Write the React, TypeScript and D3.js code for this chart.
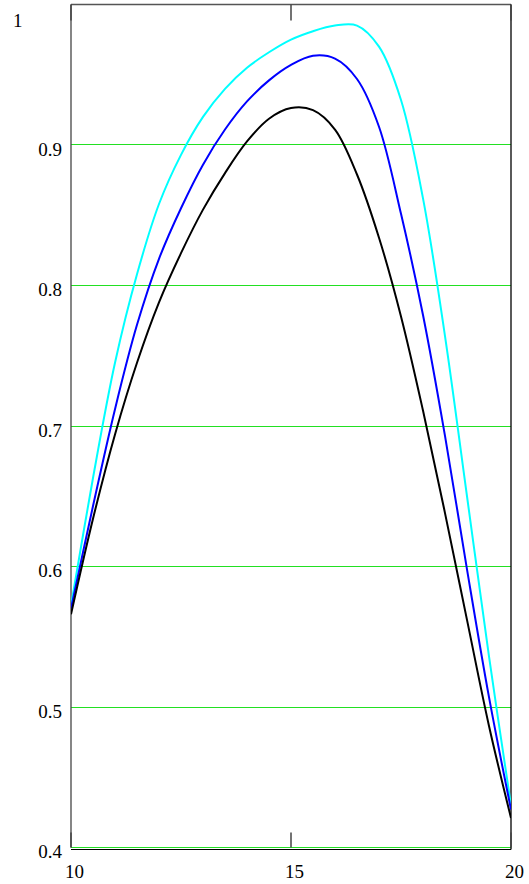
import React from "react";
import * as d3 from "d3";

const xValues = [10, 10.5, 11, 11.5, 12, 12.5, 13, 13.5, 14, 14.5, 15, 15.5, 16, 16.5, 17, 17.5, 18, 18.5, 19, 19.5, 20];
const cyanSeries = [0.572, 0.663, 0.745, 0.808, 0.858, 0.893, 0.92, 0.94, 0.955, 0.966, 0.975, 0.981, 0.985, 0.985, 0.97, 0.932, 0.862, 0.764, 0.65, 0.536, 0.43];
const blueSeries = [0.57, 0.643, 0.712, 0.772, 0.819, 0.855, 0.886, 0.911, 0.931, 0.946, 0.957, 0.9635, 0.9615, 0.947, 0.913, 0.851, 0.779, 0.693, 0.598, 0.507, 0.427];
const blackSeries = [0.566, 0.634, 0.694, 0.745, 0.788, 0.823, 0.854, 0.88, 0.9025, 0.9187, 0.9263, 0.9248, 0.911, 0.879, 0.834, 0.778, 0.711, 0.638, 0.562, 0.4865, 0.421];

const xTicks = [10, 15, 20];
const xTickLabels = ["10", "15", "20"];
const yGrid = [0.4, 0.5, 0.6, 0.7, 0.8, 0.9];
const yTickValues = [0.4, 0.5, 0.6, 0.7, 0.8, 0.9, 1];
const yTickLabels = ["0.4", "0.5", "0.6", "0.7", "0.8", "0.9", "1"];

const W = 529;
const H = 884;
const left = 71;
const right = 511;
const top = 4.5;
const bottom = 847.5;

export default function App() {
  const x = d3.scaleLinear().domain([10, 20]).range([left, right]);
  const y = d3.scaleLinear().domain([0.4, 1]).range([bottom, top]);
  const line = d3
    .line<number>()
    .x((_, i) => x(xValues[i]))
    .y((d) => y(d))
    .curve(d3.curveCatmullRom.alpha(0.5));

  const series = [
    { data: cyanSeries, color: "#00ffff" },
    { data: blueSeries, color: "#0000ff" },
    { data: blackSeries, color: "#000000" },
  ];

  const font = "'Liberation Serif', 'Times New Roman', serif";
  const snap = (v: number) => Math.floor(v) + 0.5;

  return (
    <svg
      width={W}
      height={H}
      style={{ position: "absolute", left: 0, top: 0, background: "#fff" }}
    >
      <defs>
        <clipPath id="plotclip">
          <rect x={left} y={top} width={right - left} height={bottom - top + 2} />
        </clipPath>
      </defs>
      {yGrid.map((v) => (
        <line key={"g" + v} x1={left} x2={right} y1={snap(y(v))} y2={snap(y(v))} stroke="#22e022" strokeWidth={1} />
      ))}
      {/* frame */}
      <line x1={left} x2={right} y1={top} y2={top} stroke="#555" strokeWidth={1.6} />
      <line x1={left} x2={left} y1={top} y2={bottom} stroke="#444" strokeWidth={1.3} />
      <line x1={right} x2={right} y1={top} y2={bottom + 2} stroke="#000" strokeWidth={1.3} />
      <line x1={left} x2={right} y1={bottom + 2} y2={bottom + 2} stroke="#000" strokeWidth={1.2} />
      {/* x ticks */}
      {xTicks.map((t) => (
        <g key={"t" + t}>
          <line x1={x(t)} x2={x(t)} y1={top} y2={top + 16} stroke="#444" strokeWidth={1.5} />
          <line x1={x(t)} x2={x(t)} y1={bottom - 15} y2={bottom} stroke="#444" strokeWidth={1.5} />
        </g>
      ))}
      <g clipPath="url(#plotclip)">
        {series.map((s, i) => (
          <path key={i} d={line(s.data) || ""} fill="none" stroke={s.color} strokeWidth={2} strokeLinejoin="round" />
        ))}
      </g>
      {/* y labels */}
      {yTickValues.map((v, i) =>
        v === 1 ? (
          <text key={"y" + v} x={13} y={27} fontFamily={font} fontSize={19} fill="#000">
            {yTickLabels[i]}
          </text>
        ) : (
          <text key={"y" + v} x={62} y={y(v) + 10.5} fontFamily={font} fontSize={19} textAnchor="end" fill="#000">
            {yTickLabels[i]}
          </text>
        )
      )}
      {xTicks.map((t, i) => (
        <text key={"x" + t} x={x(t) + 3.5} y={878} fontFamily={font} fontSize={19} textAnchor="middle" fill="#000">
          {xTickLabels[i]}
        </text>
      ))}
    </svg>
  );
}
